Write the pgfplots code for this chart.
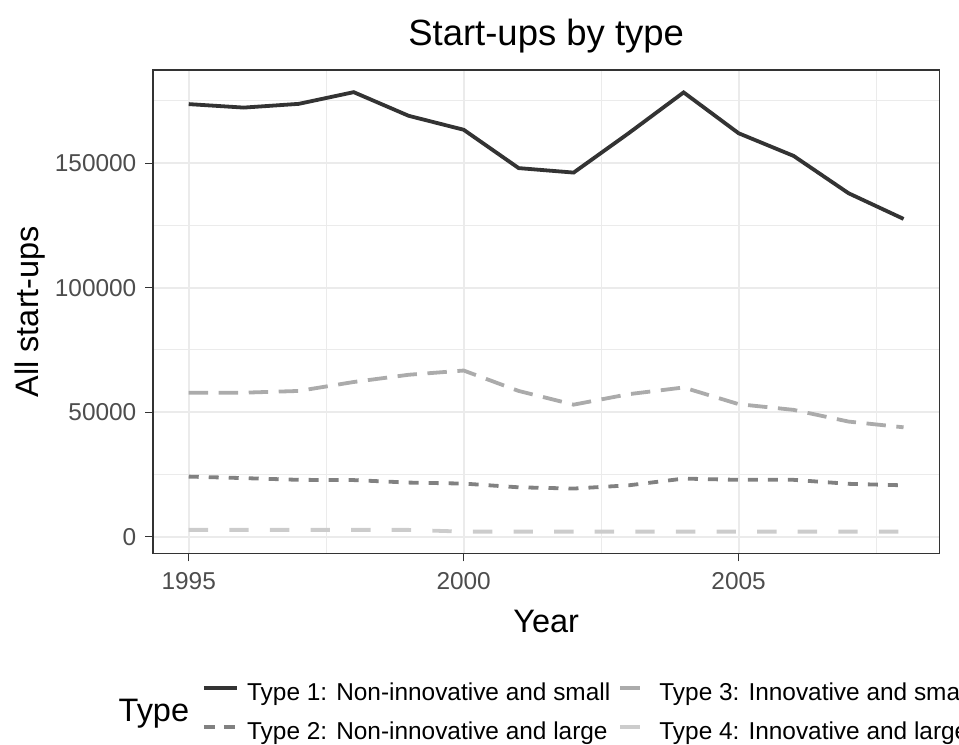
\documentclass[border=0pt]{standalone}
\usepackage{fontspec}
\setmainfont{Liberation Sans}
\usepackage{pgfplots}
\pgfplotsset{compat=1.18}
\definecolor{tone1}{HTML}{333333}
\definecolor{tone2}{HTML}{818181}
\definecolor{tone3}{HTML}{ABABAB}
\definecolor{tone4}{HTML}{CCCCCC}
\definecolor{gridc}{HTML}{EBEBEB}
\definecolor{ticktext}{HTML}{4D4D4D}
\pgfplotsset{
  legfull/.style={legend image code/.code={\draw[##1] (0bp,3bp) -- (16.35bp,3bp);}},
  legdash/.style={legend image code/.code={\draw[##1,dash pattern=on 5.5bp off 4.5bp] (0bp,3bp) -- (16.35bp,3bp);}},
  legshort/.style={legend image code/.code={\path[draw=none] (0bp,3bp) -- (16.35bp,3bp); \draw[##1,solid] (1bp,3bp) -- (11bp,3bp);}},
}
\begin{document}
\begin{tikzpicture}
\useasboundingbox (0,0) rectangle (479.5bp,372.5bp);
\begin{axis}[
  at={(76.5bp,95.85bp)}, anchor=south west,
  scale only axis, width=393.15bp, height=241.65bp,
  xmin=1994.35, xmax=2008.65, ymin=-6700, ymax=187400,
  xtick={1995,2000,2005}, ytick={0,50000,100000,150000},
  minor xtick={1997.5,2002.5,2007.5}, minor ytick={25000,75000,125000,175000},
  grid=both,
  major grid style={color=gridc, line width=1.1bp},
  minor grid style={color=gridc, line width=0.55bp},
  axis line style={color=tone1, line width=0.6bp},
  tick align=outside, major tick length=4bp, minor tick length=0pt,
  every tick/.style={color=tone1, line width=0.6bp},
  xtick pos=left, ytick pos=left,
  scaled y ticks=false, scaled x ticks=false,
  /pgf/number format/fixed,
  /pgf/number format/precision=0,
  /pgf/number format/1000 sep={},
  /pgf/number format/assume math mode=true,
  ticklabel style={font=\fontsize{12.25}{14}\selectfont, color=ticktext},
  xticklabel style={inner sep=0pt, anchor=base, yshift=-13.85bp},
  yticklabel style={inner sep=0pt, anchor=east, xshift=-4.15bp},
  title={Start-ups by type},
  title style={at={(axis description cs:0.5,1.0269)}, anchor=base, yshift=0pt, inner sep=0pt, font=\fontsize{18.3}{22}\selectfont},
  xlabel={Year},
  xlabel style={at={(axis description cs:0.5,-0.163)}, anchor=base, inner sep=0pt, font=\fontsize{16.3}{19}\selectfont},
  ylabel={All start-ups},
  ylabel style={at={(axis description cs:-0.145,0.5)}, anchor=base, inner sep=0pt, font=\fontsize{16.3}{19}\selectfont},
  legend columns=2,
  legend cell align=left,
  legend style={at={(axis description cs:0.0624,-0.2663)}, anchor=north west,
    draw=none, fill=none, inner sep=0pt, outer sep=0pt, row sep=7.8bp,
    font=\fontsize{12.25}{14}\selectfont,
    nodes={inner sep=0pt, text height=9bp, text depth=2.7bp},
    /tikz/every odd column/.style={column sep=4.3bp},
    /tikz/every even column/.style={column sep=3.9bp}},
]
\addplot[color=tone1, line width=1.9bp, solid, legfull]
  table {
x y
1995 173700
1996 172300
1997 173800
1998 178500
1999 169000
2000 163400
2001 148000
2002 146200
2003 162000
2004 178400
2005 162000
2006 152900
2007 137900
2008 127600
};
\addlegendentry{Type 1: Non-innovative and small}
\addplot[color=tone3, line width=1.9bp, dash pattern=on 9.7bp off 5.3bp, legshort]
  table {
x y
1995 57800
1996 57800
1997 58500
1998 62100
1999 65000
2000 66700
2001 58500
2002 53000
2003 57200
2004 59900
2005 53200
2006 50900
2007 46200
2008 43900
};
\addlegendentry{Type 3: Innovative and small}
\addplot[color=tone2, line width=1.9bp, dash pattern=on 5bp off 5bp, legdash]
  table {
x y
1995 24100
1996 23500
1997 22800
1998 22700
1999 21700
2000 21300
2001 19800
2002 19300
2003 20600
2004 23300
2005 22800
2006 22800
2007 21200
2008 20600
};
\addlegendentry{Type 2: Non-innovative and large}
\addplot[color=tone4, line width=1.9bp, dash pattern=on 9.7bp off 10.6bp, legshort]
  table {
x y
1995 2700
1996 2700
1997 2700
1998 2700
1999 2700
2000 2000
2001 2000
2002 2000
2003 2000
2004 2000
2005 2000
2006 2000
2007 2000
2008 2000
};
\addlegendentry{Type 4: Innovative and large}
\end{axis}
\node[anchor=base west, inner sep=0pt, font=\fontsize{16.3}{19}\selectfont] at (59.15bp,11.75bp) {Type};
\end{tikzpicture}
\end{document}
